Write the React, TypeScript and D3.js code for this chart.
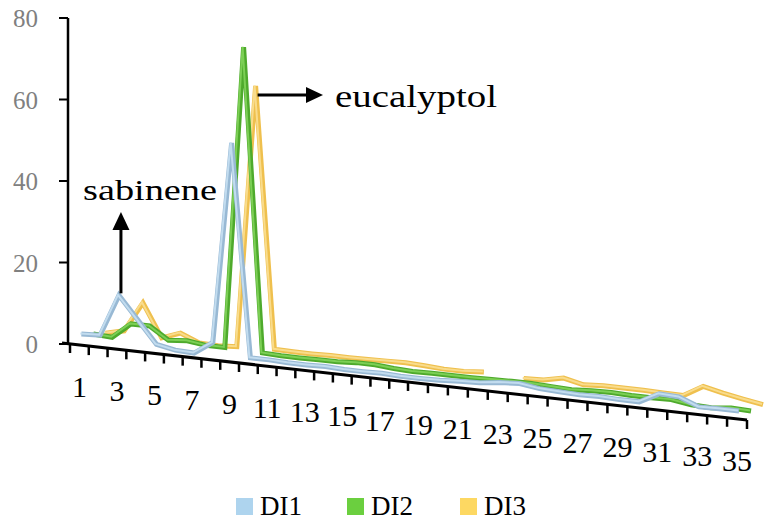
import React from 'react';
import * as d3 from 'd3';

// category numbers along the slanted x axis
const categories = d3.range(1, 36);
const xTickLabels = ['1', '3', '5', '7', '9', '11', '13', '15', '17', '19', '21', '23', '25', '27', '29', '31', '33', '35'];
const yTicks = [0, 20, 40, 60, 80];
const seriesNames = ['DI1', 'DI2', 'DI3'];

// relative area (%) per peak
const di1 = [2.0, 2.2, 12.5, 7.0, 1.5, 0.6, 0.4, 3.5, 53, 0.8, 0.8, 0.6, 0.6, 0.7, 0.5, 0.5, 0.6, 0.4, 0.4, 0.5, 0.8, 1.0, 1.6, 1.9, 1.2, 1.0, 0.8, 0.9, 0.7, 0.7, 3.2, 3.0, 1.1, 1.2, 1.2];
const di2 = [1.5, 1.2, 5.0, 5.0, 2.0, 2.4, 1.8, 1.8, 76, 1.5, 1.3, 1.3, 1.4, 1.4, 1.7, 1.7, 1.3, 1.1, 1.2, 1.2, 1.2, 1.3, 1.4, 1.4, 1.2, 1.0, 1.3, 1.4, 1.2, 1.2, 1.3, 0.6, 0.4, 0.9, 0.7];
const di3 = [1.2, 2.3, 9.7, 1.6, 3.3, 1.4, 1.2, 1.5, 66, 1.9, 1.8, 1.8, 1.9, 1.9, 2.0, 2.1, 2.2, 2.0, 1.7, 1.7, 2.1, null, 1.6, 1.8, 2.8, 1.7, 2.0, 2.0, 2.0, 1.9, 1.8, 4.6, 3.5, 2.6, 1.8];

const seriesColors = [
  { main: '#98b9d4', light: '#c2dcef', legend: '#aed4ee' },
  { main: '#4eaa2c', light: '#7ccf55', legend: '#6bcf3f' },
  { main: '#efc04e', light: '#f9dc8c', legend: '#fdd862' },
];

const W = 775;
const H = 523;
const font = "'Liberation Serif', 'Times New Roman', 'DejaVu Serif'";

// pseudo-3d geometry: category axis runs down to the right, series sit in depth rows
const tickX = d3.scaleLinear().domain([0, 18, 35]).range([70, 408, 747]);
const floorY = d3.scaleLinear().domain([70, 747]).range([344, 420]);
const yScale = d3.scaleLinear().domain([0, 80]).range([344, 18]);
const depthDX = [2, 14, 26];
const depthDY = [3, 5, 7];

const catX = (c: number) => tickX(c - 0.5);
const drop = (c: number) => floorY(catX(c)) - floorY(70);

const project = (s: number, c: number, v: number): [number, number] => [
  catX(c) + depthDX[s],
  yScale(v) + drop(c) - depthDY[s],
];

const App = () => {
  const allSeries = [di1, di2, di3];

  const makeLine = (s: number) =>
    d3
      .line<number | null>()
      .defined((v) => v !== null)
      .x((v, i) => project(s, categories[i], v as number)[0])
      .y((v, i) => project(s, categories[i], v as number)[1]);

  const axisTicks = d3.range(0, 36);

  // annotation anchors taken from the data points they point at
  const sab = project(0, 3, di1[2]);
  const euc = project(2, 9, di3[8]);

  return (
    <svg width={W} height={H} style={{ position: 'absolute', left: 0, top: 0, background: '#fff', fontFamily: font }}>
      {/* y axis */}
      <line x1={68} x2={68} y1={yScale(80)} y2={yScale(0)} stroke="#000" strokeWidth={2.5} />
      {yTicks.map((t) => (
        <g key={t}>
          <line x1={59} x2={68} y1={yScale(t)} y2={yScale(t)} stroke="#000" strokeWidth={2} />
          <text x={38} y={yScale(t)} dy="0.36em" textAnchor="end" fontSize={25} fill="#808080">
            {t}
          </text>
        </g>
      ))}

      {/* x axis (slanted) */}
      <line x1={tickX(0) - 8} x2={tickX(35)} y1={floorY(tickX(0) - 8)} y2={floorY(tickX(35))} stroke="#000" strokeWidth={3} />
      {axisTicks.map((k) => (
        <line key={k} x1={tickX(k)} x2={tickX(k)} y1={floorY(tickX(k))} y2={floorY(tickX(k)) + 9} stroke="#000" strokeWidth={2.5} />
      ))}
      {xTickLabels.map((lab) => {
        const c = +lab;
        return (
          <text key={lab} x={catX(c)} y={floorY(catX(c)) + 41} dy="0.36em" textAnchor="middle" fontSize={30} fill="#000">
            {lab}
          </text>
        );
      })}

      {/* series, back to front */}
      {[2, 1, 0].map((s) => {
        const d = makeLine(s)(allSeries[s]) || '';
        return (
          <g key={s} fill="none" strokeLinejoin="miter" strokeMiterlimit={10}>
            <path d={d} stroke={seriesColors[s].main} strokeWidth={5} />
            <path d={d} stroke={seriesColors[s].light} strokeWidth={2} transform="translate(-1,-0.5)" />
          </g>
        );
      })}

      {/* sabinene annotation */}
      <line x1={sab[0] + 2} x2={sab[0] + 2} y1={sab[1] - 2} y2={228} stroke="#000" strokeWidth={3} />
      <path d={`M${sab[0] + 2},212 L${sab[0] - 6.5},230 L${sab[0] + 10.5},230 Z`} fill="#000" />
      <text x={83} y={200} fontSize={29} textLength={134} lengthAdjust="spacingAndGlyphs" fill="#000">
        sabinene
      </text>

      {/* eucalyptol annotation */}
      <line x1={euc[0] + 2} x2={308} y1={95} y2={95} stroke="#000" strokeWidth={3} />
      <path d="M323,95 L306,87 L306,103 Z" fill="#000" />
      <text x={335} y={107} fontSize={31} textLength={162} lengthAdjust="spacingAndGlyphs" fill="#000">
        eucalyptol
      </text>

      {/* legend */}
      {seriesNames.map((name, i) => {
        const lx = [236, 347, 460][i];
        return (
          <g key={name}>
            <rect x={lx} y={498} width={17} height={17} fill={seriesColors[i].legend} />
            <text x={lx + 24} y={515} fontSize={27} fill="#000">
              {name}
            </text>
          </g>
        );
      })}
    </svg>
  );
};

export default App;
